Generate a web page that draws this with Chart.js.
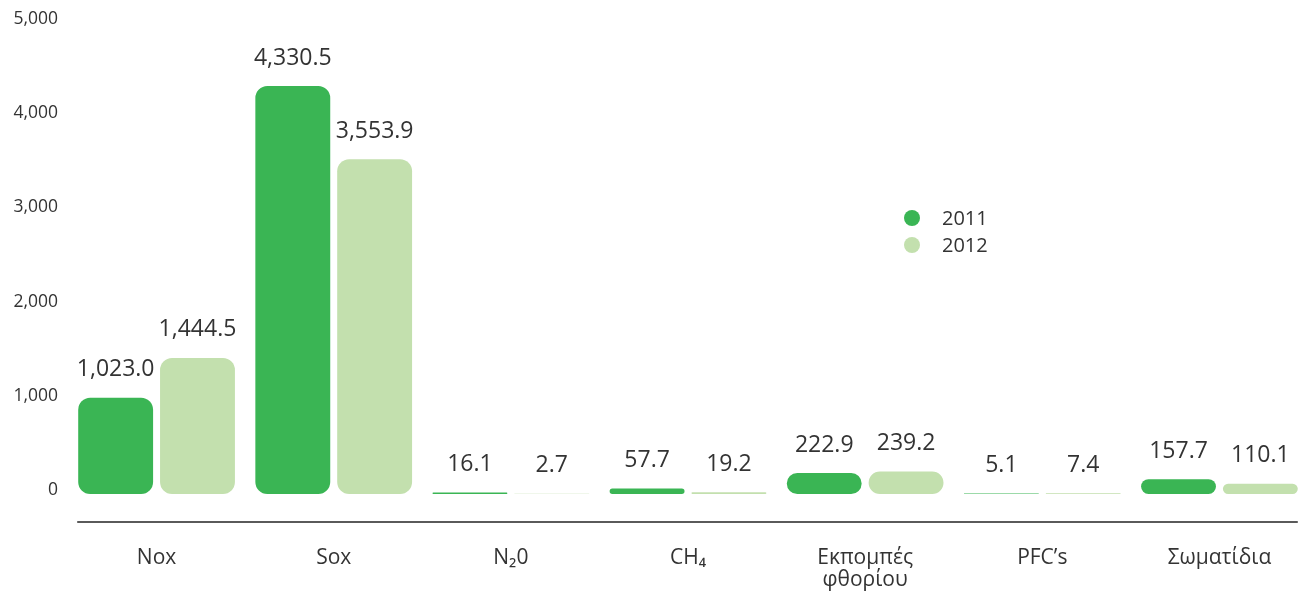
<!DOCTYPE html>
<html>
<head>
<meta charset="utf-8">
<script src="https://cdn.jsdelivr.net/npm/chart.js@4/dist/chart.umd.min.js"></script>
<style>
html,body{margin:0;padding:0;background:#fff;}
canvas{display:block;}
</style>
</head>
<body>
<canvas id="c" width="1308" height="597"></canvas>
<script>
const categories = ['Nox', 'Sox', 'N₂0', 'CH₄', ['Εκπομπές', 'φθορίου'], 'PFC’s', 'Σωματίδια'];
const seriesNames = ['2011', '2012'];
const values2011 = [1023.0, 4330.5, 16.1, 57.7, 222.9, 5.1, 157.7];
const values2012 = [1444.5, 3553.9, 2.7, 19.2, 239.2, 7.4, 110.1];
const yTicks = [0, 1000, 2000, 3000, 4000, 5000];

const COLORS = ['#3AB554', '#C3E0AE'];
const FONT = "'Open Sans', 'Noto Sans', sans-serif";
const TEXT = '#333333';

const fmt = v => v.toLocaleString('en-US', {minimumFractionDigits: 1, maximumFractionDigits: 1});

const valueLabels = {
  id: 'valueLabels',
  afterDatasetsDraw(chart) {
    const ctx = chart.ctx;
    ctx.save();
    ctx.font = '23px ' + FONT;
    ctx.fillStyle = TEXT;
    ctx.textAlign = 'center';
    ctx.textBaseline = 'middle';
    chart.data.datasets.forEach((ds, di) => {
      const meta = chart.getDatasetMeta(di);
      meta.data.forEach((bar, i) => {
        ctx.fillText(fmt(ds.data[i]), bar.x, bar.y - 28);
      });
    });
    ctx.restore();
  }
};

const axisLine = {
  id: 'axisLine',
  afterDraw(chart) {
    const m0 = chart.getDatasetMeta(0).data;
    const m1 = chart.getDatasetMeta(1).data;
    const left = m0[0].x - m0[0].width / 2;
    const right = m1[m1.length - 1].x + m1[m1.length - 1].width / 2;
    const y = chart.chartArea.bottom;
    const ctx = chart.ctx;
    ctx.save();
    ctx.strokeStyle = '#5a5a5a';
    ctx.lineWidth = 2;
    ctx.beginPath();
    ctx.moveTo(left - 1, y);
    ctx.lineTo(right, y);
    ctx.stroke();
    ctx.restore();
  }
};

const customLegend = {
  id: 'customLegend',
  afterDraw(chart) {
    const ctx = chart.ctx;
    ctx.save();
    ctx.font = '20px ' + FONT;
    ctx.textBaseline = 'middle';
    ctx.textAlign = 'left';
    seriesNames.forEach((name, i) => {
      const y = 218 + i * 27;
      ctx.fillStyle = COLORS[i];
      ctx.beginPath();
      ctx.arc(912, y, 8, 0, Math.PI * 2);
      ctx.fill();
      ctx.fillStyle = TEXT;
      ctx.fillText(name, 942, y + 1);
    });
    ctx.restore();
  }
};

new Chart(document.getElementById('c'), {
  type: 'bar',
  data: {
    labels: categories,
    datasets: [
      {label: seriesNames[0], data: values2011, backgroundColor: COLORS[0]},
      {label: seriesNames[1], data: values2012, backgroundColor: COLORS[1]}
    ]
  },
  options: {
    responsive: false,
    animation: false,
    layout: {padding: {top: 23, right: -2.5, bottom: 0, left: 0}},
    datasets: {
      bar: {
        borderRadius: 12,
        borderSkipped: false,
        barPercentage: 0.915,
        categoryPercentage: 0.924
      }
    },
    plugins: {
      legend: {display: false},
      tooltip: {enabled: false}
    },
    scales: {
      x: {
        grid: {display: false, drawTicks: false},
        border: {display: false},
        ticks: {
          color: TEXT,
          font: {family: FONT, size: 21, lineHeight: 1.05},
          padding: 25,
          maxRotation: 0,
          autoSkip: false
        },
        afterFit(scale) { scale.height = 75; }
      },
      y: {
        min: -297,
        max: 5000,
        grid: {display: false, drawTicks: false},
        border: {display: false},
        afterBuildTicks(scale) { scale.ticks = yTicks.map(v => ({value: v})); },
        ticks: {
          color: TEXT,
          font: {family: FONT, size: 17.5},
          padding: 10,
          labelOffset: -4,
          callback: v => v.toLocaleString('en-US')
        },
        afterFit(scale) { scale.width = 68; }
      }
    }
  },
  plugins: [valueLabels, axisLine, customLegend]
});
</script>
</body>
</html>
